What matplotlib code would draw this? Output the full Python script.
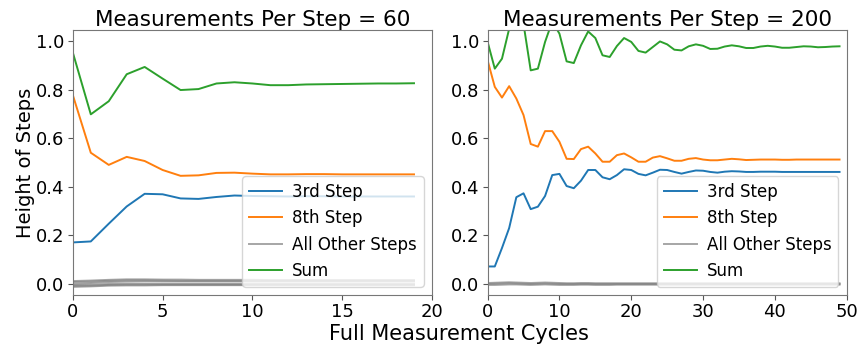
import numpy as np
import matplotlib
matplotlib.use('Agg')
import matplotlib.pyplot as plt

# --- 60 measurements per step (20 cycles) ---
cyc60 = list(range(20))
step3_60 = [0.171, 0.175, 0.248, 0.319, 0.371, 0.369, 0.352, 0.350, 0.358, 0.364,
            0.362, 0.361, 0.360, 0.361, 0.361, 0.360, 0.360, 0.360, 0.360, 0.360]
step8_60 = [0.777, 0.540, 0.490, 0.523, 0.506, 0.469, 0.445, 0.447, 0.457, 0.458,
            0.454, 0.451, 0.451, 0.452, 0.452, 0.451, 0.451, 0.451, 0.451, 0.451]
sum_60 = [0.952, 0.698, 0.752, 0.863, 0.893, 0.845, 0.798, 0.802, 0.825, 0.830,
          0.825, 0.818, 0.818, 0.821, 0.822, 0.823, 0.824, 0.825, 0.825, 0.826]
others_60 = [
    [0.012, 0.014, 0.017, 0.019, 0.019, 0.018, 0.018, 0.017, 0.017, 0.017,
     0.017, 0.016, 0.016, 0.016, 0.016, 0.016, 0.016, 0.016, 0.016, 0.016],
    [0.008, 0.010, 0.013, 0.015, 0.015, 0.014, 0.013, 0.013, 0.013, 0.013,
     0.013, 0.013, 0.013, 0.013, 0.013, 0.013, 0.013, 0.013, 0.013, 0.013],
    [0.001, 0.004, 0.008, 0.010, 0.011, 0.010, 0.010, 0.010, 0.010, 0.010,
     0.010, 0.010, 0.010, 0.010, 0.010, 0.010, 0.010, 0.010, 0.010, 0.010],
    [-0.004, -0.003, 0.000, 0.001, 0.001, 0.000, 0.000, 0.000, 0.000, 0.000,
     0.000, 0.000, 0.000, 0.000, 0.000, 0.000, 0.000, 0.000, 0.000, 0.000],
    [-0.008, -0.007, -0.004, -0.003, -0.003, -0.003, -0.003, -0.003, -0.003, -0.003,
     -0.003, -0.003, -0.003, -0.003, -0.003, -0.003, -0.003, -0.003, -0.003, -0.003],
    [-0.012, -0.010, -0.007, -0.006, -0.006, -0.005, -0.005, -0.005, -0.005, -0.005,
     -0.005, -0.005, -0.005, -0.005, -0.005, -0.005, -0.005, -0.005, -0.005, -0.005],
]

# --- 200 measurements per step (50 cycles) ---
cyc200 = list(range(50))
step3_200 = [0.072, 0.072, 0.148, 0.230, 0.357, 0.373, 0.308, 0.318, 0.362, 0.448,
             0.453, 0.403, 0.394, 0.425, 0.469, 0.469, 0.439, 0.431, 0.448, 0.472,
             0.469, 0.453, 0.447, 0.458, 0.470, 0.469, 0.461, 0.454, 0.461, 0.467,
             0.466, 0.461, 0.458, 0.462, 0.464, 0.463, 0.461, 0.461, 0.462, 0.462,
             0.462, 0.461, 0.461, 0.461, 0.461, 0.461, 0.461, 0.461, 0.461, 0.461]
step8_200 = [0.920, 0.811, 0.767, 0.814, 0.763, 0.695, 0.576, 0.565, 0.629, 0.629,
             0.585, 0.515, 0.514, 0.555, 0.565, 0.537, 0.503, 0.503, 0.530, 0.537,
             0.521, 0.503, 0.503, 0.520, 0.526, 0.517, 0.507, 0.507, 0.515, 0.518,
             0.512, 0.509, 0.509, 0.512, 0.515, 0.513, 0.510, 0.511, 0.512, 0.512,
             0.512, 0.511, 0.511, 0.512, 0.512, 0.512, 0.512, 0.512, 0.512, 0.512]
sum_200 = [0.996, 0.886, 0.927, 1.050, 1.120, 1.070, 0.879, 0.886, 0.996, 1.080,
           1.030, 0.916, 0.909, 0.982, 1.039, 1.012, 0.941, 0.934, 0.979, 1.012,
           0.996, 0.959, 0.952, 0.975, 0.998, 0.986, 0.964, 0.961, 0.978, 0.986,
           0.980, 0.967, 0.968, 0.977, 0.982, 0.978, 0.971, 0.971, 0.977, 0.980,
           0.977, 0.972, 0.972, 0.975, 0.978, 0.977, 0.974, 0.975, 0.977, 0.978]
others_200 = [
    [0.004, 0.005, 0.006, 0.007, 0.006, 0.005, 0.004, 0.005, 0.006, 0.005,
     0.004, 0.003, 0.003, 0.004, 0.004, 0.003, 0.003, 0.003, 0.003, 0.003,
     0.003, 0.003, 0.003, 0.003, 0.003, 0.003, 0.003, 0.003, 0.003, 0.003,
     0.003, 0.003, 0.003, 0.003, 0.003, 0.003, 0.003, 0.003, 0.003, 0.003,
     0.003, 0.003, 0.003, 0.003, 0.003, 0.003, 0.003, 0.003, 0.003, 0.003],
    [0.000, 0.001, 0.002, 0.003, 0.002, 0.001, 0.000, 0.001, 0.002, 0.001,
     0.000, 0.000, 0.000, 0.000, 0.000, 0.000, 0.000, 0.000, 0.000, 0.000,
     0.000, 0.000, 0.000, 0.000, 0.000, 0.000, 0.000, 0.000, 0.000, 0.000,
     0.000, 0.000, 0.000, 0.000, 0.000, 0.000, 0.000, 0.000, 0.000, 0.000,
     0.000, 0.000, 0.000, 0.000, 0.000, 0.000, 0.000, 0.000, 0.000, 0.000],
    [-0.004, -0.004, -0.003, -0.002, -0.002, -0.003, -0.004, -0.003, -0.002, -0.003,
     -0.004, -0.004, -0.004, -0.003, -0.003, -0.004, -0.004, -0.004, -0.003, -0.003,
     -0.003, -0.003, -0.003, -0.003, -0.003, -0.003, -0.003, -0.003, -0.003, -0.003,
     -0.003, -0.003, -0.003, -0.003, -0.003, -0.003, -0.003, -0.003, -0.003, -0.003,
     -0.003, -0.003, -0.003, -0.003, -0.003, -0.003, -0.003, -0.003, -0.003, -0.003],
]

titles = ['Measurements Per Step = 60', 'Measurements Per Step = 200']
xmax = [20, 50]

fig, axes = plt.subplots(1, 2, figsize=(8.57, 3.49), dpi=100)
fig.subplots_adjust(left=0.085, right=0.988, bottom=0.155, top=0.914, wspace=0.155)

panels = [
    (cyc60, step3_60, step8_60, others_60, sum_60),
    (cyc200, step3_200, step8_200, others_200, sum_200),
]

for ax, (x, s3, s8, oth, tot), title, xm in zip(axes, panels, titles, xmax):
    ax.plot(x, s3, color='#1f77b4', lw=1.4, label='3rd Step')
    ax.plot(x, s8, color='#ff7f0e', lw=1.4, label='8th Step')
    for i, o in enumerate(oth):
        ax.plot(x, o, color='gray', lw=1.4, alpha=0.7,
                label='All Other Steps' if i == 0 else None)
    ax.plot(x, tot, color='#2ca02c', lw=1.4, label='Sum')

    ax.set_xlim(0, xm)
    ax.set_ylim(-0.045, 1.045)
    ax.set_yticks([0.0, 0.2, 0.4, 0.6, 0.8, 1.0])
    ax.set_title(title, fontsize=15.5, pad=3)
    ax.tick_params(labelsize=13, color='#555555', pad=2.5)
    for sp in ax.spines.values():
        sp.set_color('#777777')
    ax.legend(loc='lower right', fontsize=12, handletextpad=0.6, labelspacing=0.5)

axes[0].set_ylabel('Height of Steps', fontsize=14, labelpad=1)
fig.text(0.536, 0.043, 'Full Measurement Cycles', ha='center', va='center', fontsize=15)

plt.savefig('out.png', dpi=100)
